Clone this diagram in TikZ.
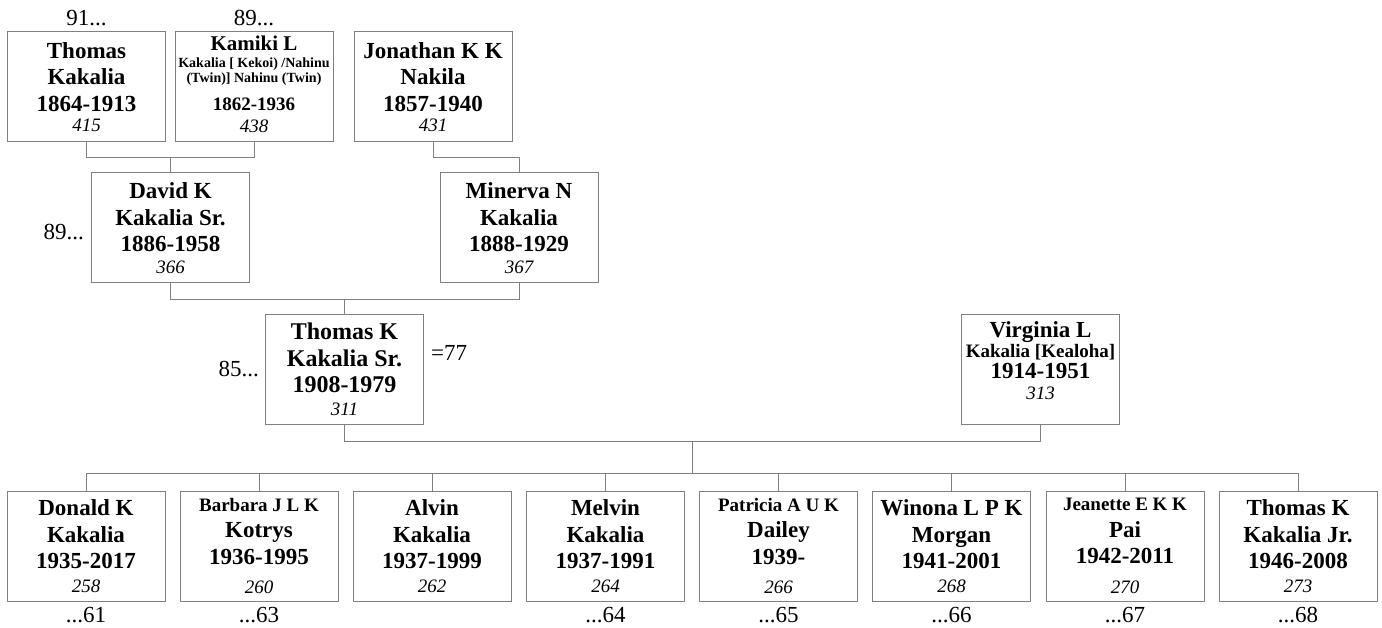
\documentclass[tikz,border=0pt]{standalone}
\usepackage{fontspec}
\setmainfont{Liberation Serif}
\usepackage{xcolor}
\usetikzlibrary{positioning, calc}
\definecolor{linegray}{RGB}{128,128,128}
\newcommand{\idnum}[1]{{\mdseries\itshape\fontsize{19}{22}\selectfont #1}}
\newcommand{\subname}[1]{{\fontsize{19}{22}\selectfont #1}}
\newcommand{\tinyname}[1]{{\fontsize{14}{16}\selectfont #1}}

\begin{document}
\begin{tikzpicture}[x=1pt, y=-1pt,
      person/.style={draw=linegray, line width=1pt, minimum width=158pt,
                     minimum height=110pt, inner sep=0pt, align=center,
                     font=\bfseries\fontsize{23}{26.5}\selectfont},
      link/.style={draw=linegray, line width=1pt},
      tag/.style={inner sep=0pt, font=\fontsize{23}{26}\selectfont}]
    \useasboundingbox (0,0) rectangle (1382,628);
    % grandparents
    \node[person] (thomasK) at (86.5,87) {Thomas\\Kakalia\\1864-1913\\[-6.5pt]\idnum{415}};
    \node[person] (kamiki) at (254,87) {{\fontsize{21}{24}\selectfont Kamiki L}\\[-9.5pt]%
      \tinyname{Kakalia [ Kekoi) /Nahinu}\\[-11.5pt]\tinyname{(Twin)] Nahinu (Twin)}\\[1.5pt]%
      {\fontsize{19}{22}\selectfont 1862-1936}\\[-4.5pt]\idnum{438}\rule[-6pt]{0pt}{0pt}};
    \node[person] (jonathan) at (433,87) {Jonathan K K\\Nakila\\1857-1940\\[-6.5pt]\idnum{431}};
    \node[tag, above=5pt of thomasK] {91...};
    \node[tag, above=5pt of kamiki] {89...};
    % parents
    \node[person] (david) at (170.5,228) {David K\\Kakalia Sr.\\1886-1958\\[-5pt]\idnum{366}};
    \node[person] (minerva) at (519,228) {Minerva N\\Kakalia\\1888-1929\\[-5pt]\idnum{367}};
    \node[tag, left=7pt of david, yshift=-4pt] {89...};
    % couple
    \node[person, font=\bfseries\fontsize{24}{26.5}\selectfont] (thomasSr) at (344.5,369.5)
      {Thomas K\\Kakalia Sr.\\1908-1979\\[-4pt]\idnum{311}};
    \node[person] (virginia) at (1040.5,369.5) {Virginia L\\[-6.5pt]\subname{Kakalia [Kealoha]}\\[-5.5pt]%
      1914-1951\\[-5.5pt]\idnum{313}\rule[-17pt]{0pt}{0pt}};
    \node[tag, left=6pt of thomasSr] {85...};
    \node[tag, right=7pt of thomasSr, yshift=16.5pt] {=77};
    % children
    \foreach \i/\cx/\first/\last/\yrs/\num/\gap in {
        1/86/Donald K/Kakalia/1935-2017/258/-3pt,
        2/259/\subname{Barbara J L K}/Kotrys/1936-1995/260/3pt,
        3/432/Alvin/Kakalia/1937-1999/262/-3pt,
        4/605.5/Melvin/Kakalia/1937-1991/264/-3pt,
        5/778.5/\subname{Patricia A U K}/Dailey/1939-/266/3pt,
        6/951.5/Winona L P K/Morgan/1941-2001/268/-3pt,
        7/1125/\subname{Jeanette E K K}/Pai/1942-2011/270/3pt,
        8/1298/Thomas K/Kakalia Jr./1946-2008/273/-3pt} {
      \node[person] (child\i) at (\cx,546) {\first\\\last\\\yrs\\[\gap]\idnum{\num}};
    }
    \foreach \i/\lbl in {1/61,2/63,4/64,5/65,6/66,7/67,8/68} {
      \node[tag, below=6pt of child\i] {...\lbl};
    }
    % connectors
    \draw[link] (thomasK.south) -- ++(0,15) -| (kamiki.south);
    \coordinate (gp1) at ($(thomasK.south)!0.5!(kamiki.south)+(0,15)$);
    \draw[link] (gp1) -- (gp1 |- david.north);
    \draw[link] (jonathan.south) -- ++(0,15) -| (minerva.north);
    \draw[link] (david.south) -- ++(0,16) -| (minerva.south);
    \coordinate (gp2) at ($(david.south)!0.5!(minerva.south)+(0,16)$);
    \draw[link] (gp2) -- (gp2 |- thomasSr.north);
    \draw[link] (thomasSr.south) -- ++(0,16) -| (virginia.south);
    \coordinate (fam) at ($(thomasSr.south)!0.5!(virginia.south)+(0,16)$);
    \coordinate (bus) at ($(fam |- child1.north)+(0,-17)$);
    \draw[link] (fam) -- (bus);
    \draw[link] (child1.north) -- ++(0,-17) -| (child8.north);
    \foreach \i in {2,...,7} {
      \draw[link] (child\i.north) -- ++(0,-17);
    }
\end{tikzpicture}
\end{document}
